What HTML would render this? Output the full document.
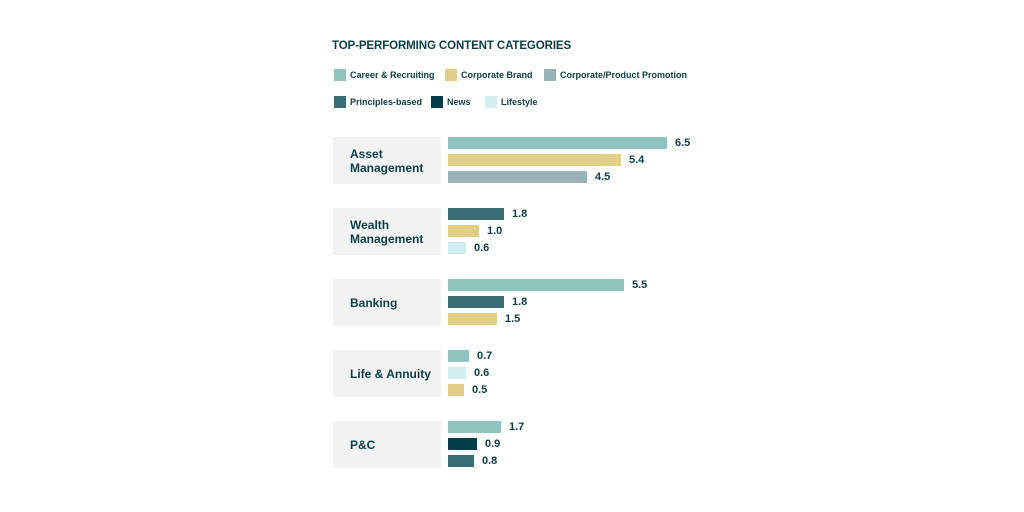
<!DOCTYPE html>
<html><head><style>
body{margin:0;width:1024px;height:512px;background:#fff;font-family:"Liberation Sans",sans-serif;color:#0e3d47;position:relative;overflow:hidden}
div{position:absolute}
.t{font-weight:bold;font-size:11.5px;left:332px;top:40px;letter-spacing:-0.1px}
.lg{font-size:9px;font-weight:bold;height:12px;line-height:12px}
.sw{width:12px;height:12px}
.box{left:333px;width:108px;height:47px;background:#f2f2f2}
.bl{left:350px;font-size:12px;font-weight:bold;line-height:14px}
.bar{left:448px;height:12px}
.v{font-size:11px;font-weight:bold;line-height:12px}
</style></head><body>
<div class="t">TOP-PERFORMING CONTENT CATEGORIES</div>
<div class="sw" style="left:334px;top:69px;background:#8fc3bd"></div><div class="lg" style="left:350px;top:69px">Career &amp; Recruiting</div>
<div class="sw" style="left:445px;top:69px;background:#e1cf87"></div><div class="lg" style="left:461px;top:69px">Corporate Brand</div>
<div class="sw" style="left:544px;top:69px;background:#9ab2b6"></div><div class="lg" style="left:560px;top:69px">Corporate/Product Promotion</div>
<div class="sw" style="left:334px;top:96px;background:#376c73"></div><div class="lg" style="left:350px;top:96px">Principles-based</div>
<div class="sw" style="left:431px;top:96px;background:#033d47"></div><div class="lg" style="left:447px;top:96px">News</div>
<div class="sw" style="left:485px;top:96px;background:#d2eef1"></div><div class="lg" style="left:501px;top:96px">Lifestyle</div>

<div class="box" style="top:137px"></div><div class="bl" style="top:147px">Asset<br>Management</div>
<div class="bar" style="top:137px;width:219px;background:#8fc3bd"></div><div class="v" style="left:675px;top:137px">6.5</div>
<div class="bar" style="top:154px;width:173px;background:#e1cf87"></div><div class="v" style="left:629px;top:154px">5.4</div>
<div class="bar" style="top:171px;width:139px;background:#9ab2b6"></div><div class="v" style="left:595px;top:171px">4.5</div>

<div class="box" style="top:208px"></div><div class="bl" style="top:218px">Wealth<br>Management</div>
<div class="bar" style="top:208px;width:56px;background:#376c73"></div><div class="v" style="left:512px;top:208px">1.8</div>
<div class="bar" style="top:225px;width:31px;background:#e1cf87"></div><div class="v" style="left:487px;top:225px">1.0</div>
<div class="bar" style="top:242px;width:18px;background:#d2eef1"></div><div class="v" style="left:474px;top:242px">0.6</div>

<div class="box" style="top:279px"></div><div class="bl" style="top:296px">Banking</div>
<div class="bar" style="top:279px;width:176px;background:#8fc3bd"></div><div class="v" style="left:632px;top:279px">5.5</div>
<div class="bar" style="top:296px;width:56px;background:#376c73"></div><div class="v" style="left:512px;top:296px">1.8</div>
<div class="bar" style="top:313px;width:49px;background:#e1cf87"></div><div class="v" style="left:505px;top:313px">1.5</div>

<div class="box" style="top:350px"></div><div class="bl" style="top:367px">Life &amp; Annuity</div>
<div class="bar" style="top:350px;width:21px;background:#8fc3bd"></div><div class="v" style="left:477px;top:350px">0.7</div>
<div class="bar" style="top:367px;width:18px;background:#d2eef1"></div><div class="v" style="left:474px;top:367px">0.6</div>
<div class="bar" style="top:384px;width:16px;background:#e1cf87"></div><div class="v" style="left:472px;top:384px">0.5</div>

<div class="box" style="top:421px"></div><div class="bl" style="top:438px">P&amp;C</div>
<div class="bar" style="top:421px;width:53px;background:#8fc3bd"></div><div class="v" style="left:509px;top:421px">1.7</div>
<div class="bar" style="top:438px;width:29px;background:#033d47"></div><div class="v" style="left:485px;top:438px">0.9</div>
<div class="bar" style="top:455px;width:26px;background:#376c73"></div><div class="v" style="left:482px;top:455px">0.8</div>
</body></html>
